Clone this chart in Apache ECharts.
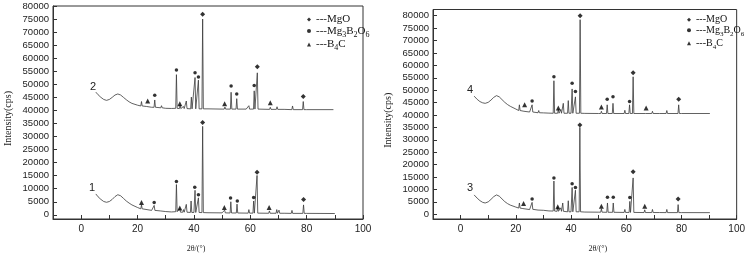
<!DOCTYPE html>
<html lang="en">
<head>
    <meta charset="UTF-8">
    <title>XRD</title>
    <style>
        html, body { margin: 0; padding: 0; background: #fff; }
        .div { width: 748px; height: 258px; }
    </style>
</head>
<body>
    <div class="div"></div>
    <script src="https://cdn.jsdelivr.net/npm/echarts@6/dist/echarts.min.js"></script>
    <script>
        // tick values
        var xTicks = [0, 10, 20, 30, 40, 50, 60, 70, 80, 90, 100]
        var xLabels = [0, 20, 40, 60, 80, 100]
        var yLabels = [0, 5000, 10000, 15000, 20000, 25000, 30000, 35000, 40000,
            45000, 50000, 55000, 60000, 65000, 70000, 75000, 80000]

        // baseline points [2θ, cps]
        var base1 = [[5.2, 8000], [6, 6900], [7, 5900], [8, 5100], [9, 4800], [10, 5100], [11, 5900], [12, 7000],
            [13, 7700], [14, 7300], [15, 6300], [16, 5300], [17, 4500], [18, 3800], [20, 2800], [22, 2200],
            [25, 1700], [30, 1250], [32, 1100], [40, 900], [45, 800], [50, 750], [60, 650], [72, 600], [80, 550], [90, 500]]
        var base2 = [[5.2, 47000], [6, 46000], [7, 45000], [8, 44200], [9, 43850], [10, 44200], [11, 45000], [12, 45900],
            [13, 46300], [14, 45900], [15, 45000], [16, 44100], [17, 43300], [18, 42700], [20, 42000], [22, 41600],
            [25, 41200], [30, 40800], [32, 40750], [40, 40600], [45, 40600], [50, 40500], [60, 40500], [72, 40400], [80, 40300], [89.5, 40300]]
        var base3 = [[4.9, 7800], [6, 6500], [7, 5500], [8, 4800], [8.9, 4550], [10, 5000], [11, 6000], [12, 7100],
            [13, 7800], [14, 7300], [15, 6200], [16, 5100], [17, 4300], [18, 3700], [20, 2900], [22, 2400],
            [25, 1900], [30, 1600], [32, 1350], [40, 1000], [45, 900], [50, 850], [60, 750], [72, 700], [80, 680], [90.3, 660]]
        var base4 = [[4.9, 47600], [6, 46300], [7, 45400], [8, 44900], [8.9, 44700], [10, 45100], [11, 46000], [12, 47100],
            [13, 47800], [14, 47300], [15, 46200], [16, 45100], [17, 44200], [18, 43500], [20, 42400], [22, 41700],
            [25, 41200], [30, 40850], [32, 40750], [40, 40700], [45, 40650], [50, 40600], [60, 40600], [72, 40600], [80, 40600], [90.3, 40600]]

        // peaks [2θ, foot, top]
        var peaks1 = [[21.4, 2300, 3800], [25.9, 1700, 3600], [28.3, 1500, 2200], [33.8, 1200, 11600], [35.0, 1000, 2400],
            [36.3, 1000, 2000], [37.3, 1000, 4000], [39.0, 900, 5300], [40.4, 900, 9400], [41.6, 900, 6500],
            [43.1, 850, 33900], [50.9, 750, 1800], [53.1, 700, 5000], [55.3, 700, 4100], [59.5, 650, 2000],
            [61.2, 650, 5300], [62.4, 650, 15100], [66.8, 600, 1500], [69.4, 600, 2000], [70.2, 600, 1800],
            [74.8, 550, 1700], [78.9, 550, 3800]]
        var peaks2 = [[21.4, 41700, 43400], [23.5, 41500, 42200], [26.1, 41200, 44000], [28.5, 41000, 41800],
            [33.8, 40800, 53700], [35.1, 40700, 42000], [36.3, 40700, 41500], [37.3, 40700, 43600], [39.1, 40600, 45100],
            [40.4, 40600, 52600], [41.6, 40600, 51600], [43.1, 40600, 75000], [51.0, 40500, 41300], [53.2, 40500, 46950],
            [55.2, 40500, 44500], [58.8, 40500, 41200], [59.5, 40500, 41800], [61.4, 40500, 47500], [62.5, 40500, 54400],
            [67.1, 40400, 41200], [69.5, 40400, 41400], [70.3, 40400, 41000], [75.0, 40300, 41700], [78.8, 40300, 43400]]
        var peaks3 = [[21.3, 2500, 4550], [22.8, 2300, 3000], [25.9, 2000, 4800], [28.3, 1700, 2400], [33.8, 1300, 13400],
            [35.2, 1200, 3000], [36.3, 1200, 2600], [37.0, 1200, 4550], [39.0, 1000, 5450], [40.4, 1000, 10800],
            [41.6, 1000, 9700], [43.2, 1000, 35000], [51.0, 850, 2200], [53.2, 800, 4550], [55.3, 800, 4550],
            [59.5, 750, 1950], [61.3, 750, 5200], [62.5, 750, 14650], [66.7, 700, 1800], [69.5, 700, 1950],
            [74.7, 680, 1950], [78.8, 680, 3900]]
        var peaks4 = [[21.3, 41800, 44100], [23.2, 41500, 42300], [25.9, 41200, 44100], [28.3, 40900, 41800],
            [33.8, 40700, 53800], [35.4, 40700, 42300], [36.3, 40700, 42200], [37.2, 40700, 44700], [39.0, 40700, 45800],
            [40.4, 40700, 50500], [41.6, 40700, 47300], [43.3, 40700, 78400], [51.0, 40600, 41500], [53.1, 40600, 44100],
            [55.2, 40600, 44700], [59.5, 40600, 41900], [61.2, 40600, 44100], [62.5, 40600, 55400], [67.2, 40600, 41300],
            [69.5, 40600, 41500], [74.7, 40600, 41800], [79.0, 40600, 44100]]

        // phase marks [2θ, cps]
        var mgo1 = [[43.1, 35400], [62.4, 16350], [78.9, 5900]]
        var mbo1 = [[25.9, 4700], [33.8, 12800], [40.3, 10600], [41.6, 7700], [53.0, 6400], [55.4, 5300], [61.2, 6600]]
        var b4c1 = [[21.4, 4700], [35.0, 2600], [50.8, 2800], [66.7, 2800]]
        var mgo2 = [[43.1, 76800], [62.5, 56700], [78.8, 45300]]
        var mbo2 = [[26.1, 45800], [33.8, 55500], [40.4, 54400], [41.6, 52800], [53.2, 49400], [55.2, 46300], [61.4, 49500]]
        var b4c2 = [[23.6, 43600], [35.0, 42600], [50.9, 42600], [67.1, 42900]]
        var mgo3 = [[43.2, 36000], [62.5, 17100], [78.8, 6200]]
        var mbo3 = [[25.9, 6200], [33.8, 14650], [40.4, 12300], [41.6, 10800], [53.2, 6900], [55.3, 6900], [61.3, 6750]]
        var b4c3 = [[22.8, 4300], [35.2, 3000], [51.0, 3250], [66.7, 3250]]
        var mgo4 = [[43.3, 80000], [62.5, 57000], [79.0, 46300]]
        var mbo4 = [[25.9, 45600], [33.8, 55400], [40.4, 52800], [41.6, 49500], [53.1, 46300], [55.2, 47300], [61.2, 45400]]
        var b4c4 = [[23.2, 44100], [35.4, 42800], [51.0, 43200], [67.2, 42800]]

        // curve number tags [text, 2θ, cps]
        var tags = [['1', 3.9, 10200], ['2', 4.2, 49150], ['3', 3.4, 10770], ['4', 3.4, 50150]]

        function curve(base, peaks) {
            var pts = base.slice()
            peaks.forEach(function (p) {
                pts.push([p[0] - 0.25, p[1]], [p[0], p[2]], [p[0] + 0.25, p[1]])
            })
            pts.sort(function (a, b) { return a[0] - b[0] })
            return pts
        }

        var sans = 'Arial, "Liberation Sans", sans-serif'
        var serif = '"Times New Roman", "Liberation Serif", serif'

        function xAx(idx, pad) {
            return {
                gridIndex: idx, type: 'value', min: -10, max: 100,
                name: '2θ/(°)', nameLocation: 'middle', nameGap: 26,
                nameTextStyle: { fontFamily: serif, fontSize: 8, color: '#222', padding: pad },
                axisLine: { onZero: false, lineStyle: { color: '#333', width: 1 } },
                axisTick: { inside: true, length: 4, customValues: xTicks, lineStyle: { color: '#333' } },
                axisLabel: { customValues: xLabels, fontFamily: sans, fontSize: 10, color: '#222', margin: 5 },
                splitLine: { show: false }
            }
        }
        function yAx(idx, min, max) {
            return {
                gridIndex: idx, type: 'value', min: min, max: max,
                name: 'Intensity(cps)', nameLocation: 'middle', nameGap: 40,
                nameTextStyle: { fontFamily: serif, fontSize: 10, color: '#222', padding: [0, 12, 0, 0] },
                axisLine: { show: true, onZero: false, lineStyle: { color: '#333', width: 1 } },
                axisTick: { show: true, inside: true, length: 4, customValues: yLabels, lineStyle: { color: '#333' } },
                axisLabel: {
                    customValues: yLabels, fontFamily: sans, fontSize: 9.5, color: '#222', margin: 4,
                    formatter: function (v) { return String(v) }
                },
                splitLine: { show: false }
            }
        }

        var legendNames = {
            'MgO': '{n|---MgO}',
            'Mg3B2O6': '{n|---Mg}{s|3}{n|B}{s|2}{n|O}{s|6}',
            'B4C': '{n|---B}{s|4}{n|C}'
        }
        function legendAt(left, top, size) {
            return {
                left: left, top: top, orient: 'vertical', selectedMode: false,
                itemWidth: 4, itemHeight: 4, itemGap: 0.5,
                data: [{ name: 'MgO', icon: 'diamond' }, { name: 'Mg3B2O6', icon: 'circle' }, { name: 'B4C', icon: 'triangle' }],
                formatter: function (name) { return legendNames[name] },
                textStyle: {
                    rich: {
                        n: { fontFamily: serif, fontSize: size, color: '#111', lineHeight: 15 },
                        s: { fontFamily: serif, fontSize: size - 3, color: '#111', lineHeight: 5, verticalAlign: 'bottom' }
                    }
                }
            }
        }

        function lineSeries(idx, data, tag) {
            return {
                type: 'line', xAxisIndex: idx, yAxisIndex: idx, data: data,
                symbol: 'none', lineStyle: { color: '#3a3a3a', width: 0.8 }, z: 2,
                markPoint: {
                    symbol: 'circle', symbolSize: 0,
                    label: { show: true, formatter: tag[0], fontFamily: sans, fontSize: 11, color: '#222' },
                    data: [{ coord: [tag[1], tag[2]] }]
                }
            }
        }
        function marks(idx, name, data, symbol, size) {
            return {
                type: 'scatter', name: name, xAxisIndex: idx, yAxisIndex: idx, data: data,
                symbol: symbol, symbolSize: size, itemStyle: { color: '#000' }, z: 3
            }
        }

        var myecharts = echarts.init(document.getElementsByClassName('div')[0], null, { renderer: 'canvas' })
        var option = {
            animation: false,
            backgroundColor: '#fff',
            grid: [
                { left: 53, top: 6, width: 310, height: 220, show: true, borderColor: '#333', borderWidth: 1 },
                { left: 433, top: 9.5, width: 307, height: 217, show: true, borderColor: '#333', borderWidth: 1 }
            ],
            xAxis: [xAx(0, [0, 24, 0, 0]), xAx(1, [0, 0, 0, 26])],
            yAxis: [yAx(0, -1600, 80000), yAx(1, -1900, 82500)],
            legend: [legendAt(302, 9, 11), legendAt(682, 9.7, 10)],
            series: [
                lineSeries(0, curve(base1, peaks1), tags[0]),
                lineSeries(0, curve(base2, peaks2), tags[1]),
                lineSeries(1, curve(base3, peaks3), tags[2]),
                lineSeries(1, curve(base4, peaks4), tags[3]),
                marks(0, 'MgO', mgo1.concat(mgo2), 'diamond', 5),
                marks(0, 'Mg3B2O6', mbo1.concat(mbo2), 'circle', 3.5),
                marks(0, 'B4C', b4c1.concat(b4c2), 'triangle', 5),
                marks(1, 'MgO', mgo3.concat(mgo4), 'diamond', 5),
                marks(1, 'Mg3B2O6', mbo3.concat(mbo4), 'circle', 3.5),
                marks(1, 'B4C', b4c3.concat(b4c4), 'triangle', 5)
            ]
        }
        myecharts.setOption(option)
        window.onresize = myecharts.resize
    </script>
</body>
</html>
